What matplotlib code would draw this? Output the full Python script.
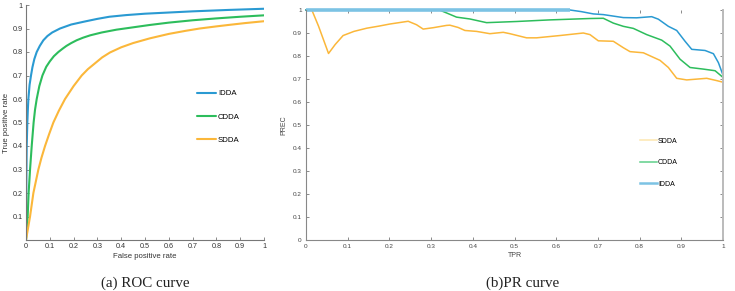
import matplotlib
matplotlib.use("Agg")
import matplotlib.pyplot as plt

# ---------------- data ----------------
roc_idda_x = [0, 0.001, 0.003, 0.0056, 0.008, 0.01, 0.015, 0.021, 0.027, 0.035, 0.045, 0.058, 0.073, 0.09, 0.11,
              0.143, 0.19, 0.248, 0.3, 0.35, 0.42, 0.5, 0.6, 0.7, 0.85, 1.0]
roc_idda_y = [0, 0.2, 0.4, 0.5, 0.56, 0.6, 0.66, 0.7, 0.735, 0.77, 0.8, 0.826, 0.85, 0.868, 0.883,
              0.9, 0.917, 0.93, 0.941, 0.95, 0.957, 0.963, 0.968, 0.973, 0.979, 0.984]

roc_cdda_x = [0, 0.007, 0.011, 0.017, 0.024, 0.032, 0.038, 0.045, 0.056, 0.069, 0.085, 0.1, 0.117, 0.136, 0.155,
              0.17, 0.19, 0.213, 0.24, 0.27, 0.318, 0.38, 0.45, 0.52, 0.6, 0.7, 0.8, 0.9, 1.0]
roc_cdda_y = [0, 0.1, 0.2, 0.3, 0.4, 0.5, 0.555, 0.6, 0.655, 0.7, 0.737, 0.76, 0.782, 0.8, 0.815,
              0.826, 0.838, 0.85, 0.861, 0.871, 0.883, 0.895, 0.905, 0.915, 0.925, 0.935, 0.943, 0.95, 0.956]

roc_sdda_x = [0, 0.017, 0.031, 0.052, 0.065, 0.08, 0.097, 0.115, 0.138, 0.164, 0.2, 0.234, 0.26, 0.29, 0.32,
              0.353, 0.4, 0.45, 0.52, 0.6, 0.67, 0.73, 0.8, 0.85, 0.92, 1.0]
roc_sdda_y = [0, 0.1, 0.2, 0.3, 0.35, 0.4, 0.45, 0.5, 0.55, 0.6, 0.655, 0.7, 0.727, 0.752, 0.777,
              0.798, 0.82, 0.838, 0.858, 0.877, 0.89, 0.9, 0.909, 0.915, 0.923, 0.931]

pr_sdda_x = [0, 0.014, 0.03, 0.054, 0.07, 0.089, 0.115, 0.146, 0.175, 0.201, 0.245, 0.265, 0.281, 0.305, 0.337, 0.345,
             0.365, 0.381, 0.409, 0.441, 0.473, 0.489, 0.529, 0.553, 0.609, 0.665, 0.681, 0.701, 0.737, 0.761, 0.777,
             0.809, 0.849, 0.869, 0.889, 0.913, 0.961, 0.985, 1.0]
pr_sdda_y = [1.0, 1.0, 0.93, 0.811, 0.85, 0.889, 0.907, 0.921, 0.93, 0.939, 0.951, 0.936, 0.917, 0.923, 0.933, 0.934,
             0.924, 0.911, 0.907, 0.897, 0.903, 0.897, 0.879, 0.879, 0.889, 0.9, 0.893, 0.866, 0.864, 0.836, 0.819,
             0.814, 0.781, 0.75, 0.703, 0.696, 0.703, 0.693, 0.686]

pr_cdda_x = [0, 0.32, 0.34, 0.361, 0.393, 0.433, 0.505, 0.585, 0.681, 0.713, 0.737, 0.761, 0.785, 0.817, 0.853,
             0.873, 0.897, 0.921, 0.953, 0.981, 1.0]
pr_cdda_y = [1.0, 1.0, 0.985, 0.969, 0.961, 0.945, 0.95, 0.957, 0.963, 0.964, 0.943, 0.929, 0.92, 0.893, 0.869,
             0.843, 0.786, 0.75, 0.743, 0.736, 0.707]

pr_idda_x = [0, 0.633, 0.66, 0.689, 0.713, 0.761, 0.793, 0.829, 0.845, 0.869, 0.889, 0.909, 0.925, 0.957, 0.977, 0.989, 1.0]
pr_idda_y = [1.0, 1.0, 0.993, 0.983, 0.98, 0.967, 0.966, 0.971, 0.96, 0.929, 0.911, 0.864, 0.829, 0.824, 0.81, 0.771, 0.717]

ticks = [0, 0.1, 0.2, 0.3, 0.4, 0.5, 0.6, 0.7, 0.8, 0.9, 1]
tick_labels = ["0", "0.1", "0.2", "0.3", "0.4", "0.5", "0.6", "0.7", "0.8", "0.9", "1"]

c_blue = "#2a9ad2"
c_green = "#2dbd5c"
c_orange = "#fbb73a"
c_blue_l = "#7cc3e4"
c_green_l = "#5fcf8a"

W, H = 735, 291
fig = plt.figure(figsize=(W / 100, H / 100), dpi=100)
plt.rcParams["font.family"] = ["Liberation Sans", "DejaVu Sans"]

def ax_rect(x0, y0, x1, y1):
    return [x0 / W, 1 - y1 / H, (x1 - x0) / W, (y1 - y0) / H]

spine_col = "#777777"

# ---------------- ROC ----------------
ax1 = fig.add_axes(ax_rect(26, 5, 264, 240))
for xs, ys, c, lab in [(roc_idda_x, roc_idda_y, c_blue, "IDDA"),
                       (roc_cdda_x, roc_cdda_y, c_green, "CDDA"),
                       (roc_sdda_x, roc_sdda_y, c_orange, "SDDA")]:
    ax1.plot(xs, ys, color=c, lw=1.5, label=lab, solid_joinstyle="round", solid_capstyle="round")
ax1.set_xlim(0, 1)
ax1.set_ylim(0, 1)
ax1.set_xticks(ticks)
ax1.set_xticklabels(tick_labels)
ax1.set_yticks(ticks[1:])
ax1.set_yticklabels(tick_labels[1:])
for s in ["top", "right"]:
    ax1.spines[s].set_visible(False)
for s in ["left", "bottom"]:
    ax1.spines[s].set_color(spine_col)
    ax1.spines[s].set_linewidth(0.8)
ax1.tick_params(direction="in", length=2.5, width=0.6, colors=spine_col, labelsize=5.2, labelcolor="#333333", pad=2.5)
ax1.set_xlabel("False positive rate", fontsize=5.6, color="#333333", labelpad=2)
ax1.set_ylabel("True positive rate", fontsize=5.6, color="#333333", labelpad=2)
ax1.legend(loc="upper left", bbox_to_anchor=(0.718, 0.639), frameon=False, fontsize=5.6,
           handlelength=2.45, handletextpad=0.25, labelspacing=2.05, borderpad=0, borderaxespad=0)

# ---------------- PR ----------------
ax2 = fig.add_axes(ax_rect(306, 10, 723, 240))
ax2.plot(pr_sdda_x, pr_sdda_y, color=c_orange, lw=1.1, label="SDDA", clip_on=False)
ax2.plot(pr_cdda_x, pr_cdda_y, color=c_green, lw=1.1, label="CDDA", clip_on=False)
ax2.plot(pr_idda_x, pr_idda_y, color=c_blue, lw=1.1, clip_on=False)
ax2.plot(pr_idda_x[:2], pr_idda_y[:2], color=c_blue_l, lw=2.6, clip_on=False, solid_capstyle="butt")
ax2.plot([], [], color=c_blue_l, lw=1.8, label="IDDA")
ax2.set_xlim(0, 1)
ax2.set_ylim(0, 1)
ax2.set_xticks(ticks)
ax2.set_xticklabels(tick_labels)
ax2.set_yticks(ticks)
ax2.set_yticklabels(tick_labels)
for s in ["left", "bottom", "top", "right"]:
    ax2.spines[s].set_color("#888888")
    ax2.spines[s].set_linewidth(0.8)
ax2.spines["top"].set_visible(False)
ax2.spines["right"].set_color("#bbbbbb")
ax2.spines["right"].set_linewidth(1.4)
ax2.tick_params(direction="in", length=2.5, width=0.6, colors=spine_col, labelsize=4.6, labelcolor="#444444",
                pad=3, top=True, right=True)
ax2.set_xlabel("TPR", fontsize=5.0, color="#444444", labelpad=2)
ax2.set_ylabel("PREC", fontsize=5.0, color="#444444", labelpad=4)
h, l = ax2.get_legend_handles_labels()
leg = ax2.legend(h, l, loc="upper left", bbox_to_anchor=(0.80, 0.445), frameon=False, fontsize=5.0,
                 handlelength=2.45, handletextpad=0.2, labelspacing=2.1, borderpad=0, borderaxespad=0)
leg.get_lines()[0].set_color("#fde7b0")
leg.get_lines()[1].set_color(c_green_l)

# ---------------- captions ----------------
fig.text(145 / W, 1 - 283 / H, "(a) ROC curve", ha="center", va="center", fontsize=10.8,
         family=["Liberation Serif", "DejaVu Serif"], color="#222222")
fig.text(523 / W, 1 - 283 / H, "(b)PR curve", ha="center", va="center", fontsize=10.8,
         family=["Liberation Serif", "DejaVu Serif"], color="#222222")

fig.savefig("out.png", dpi=100)
